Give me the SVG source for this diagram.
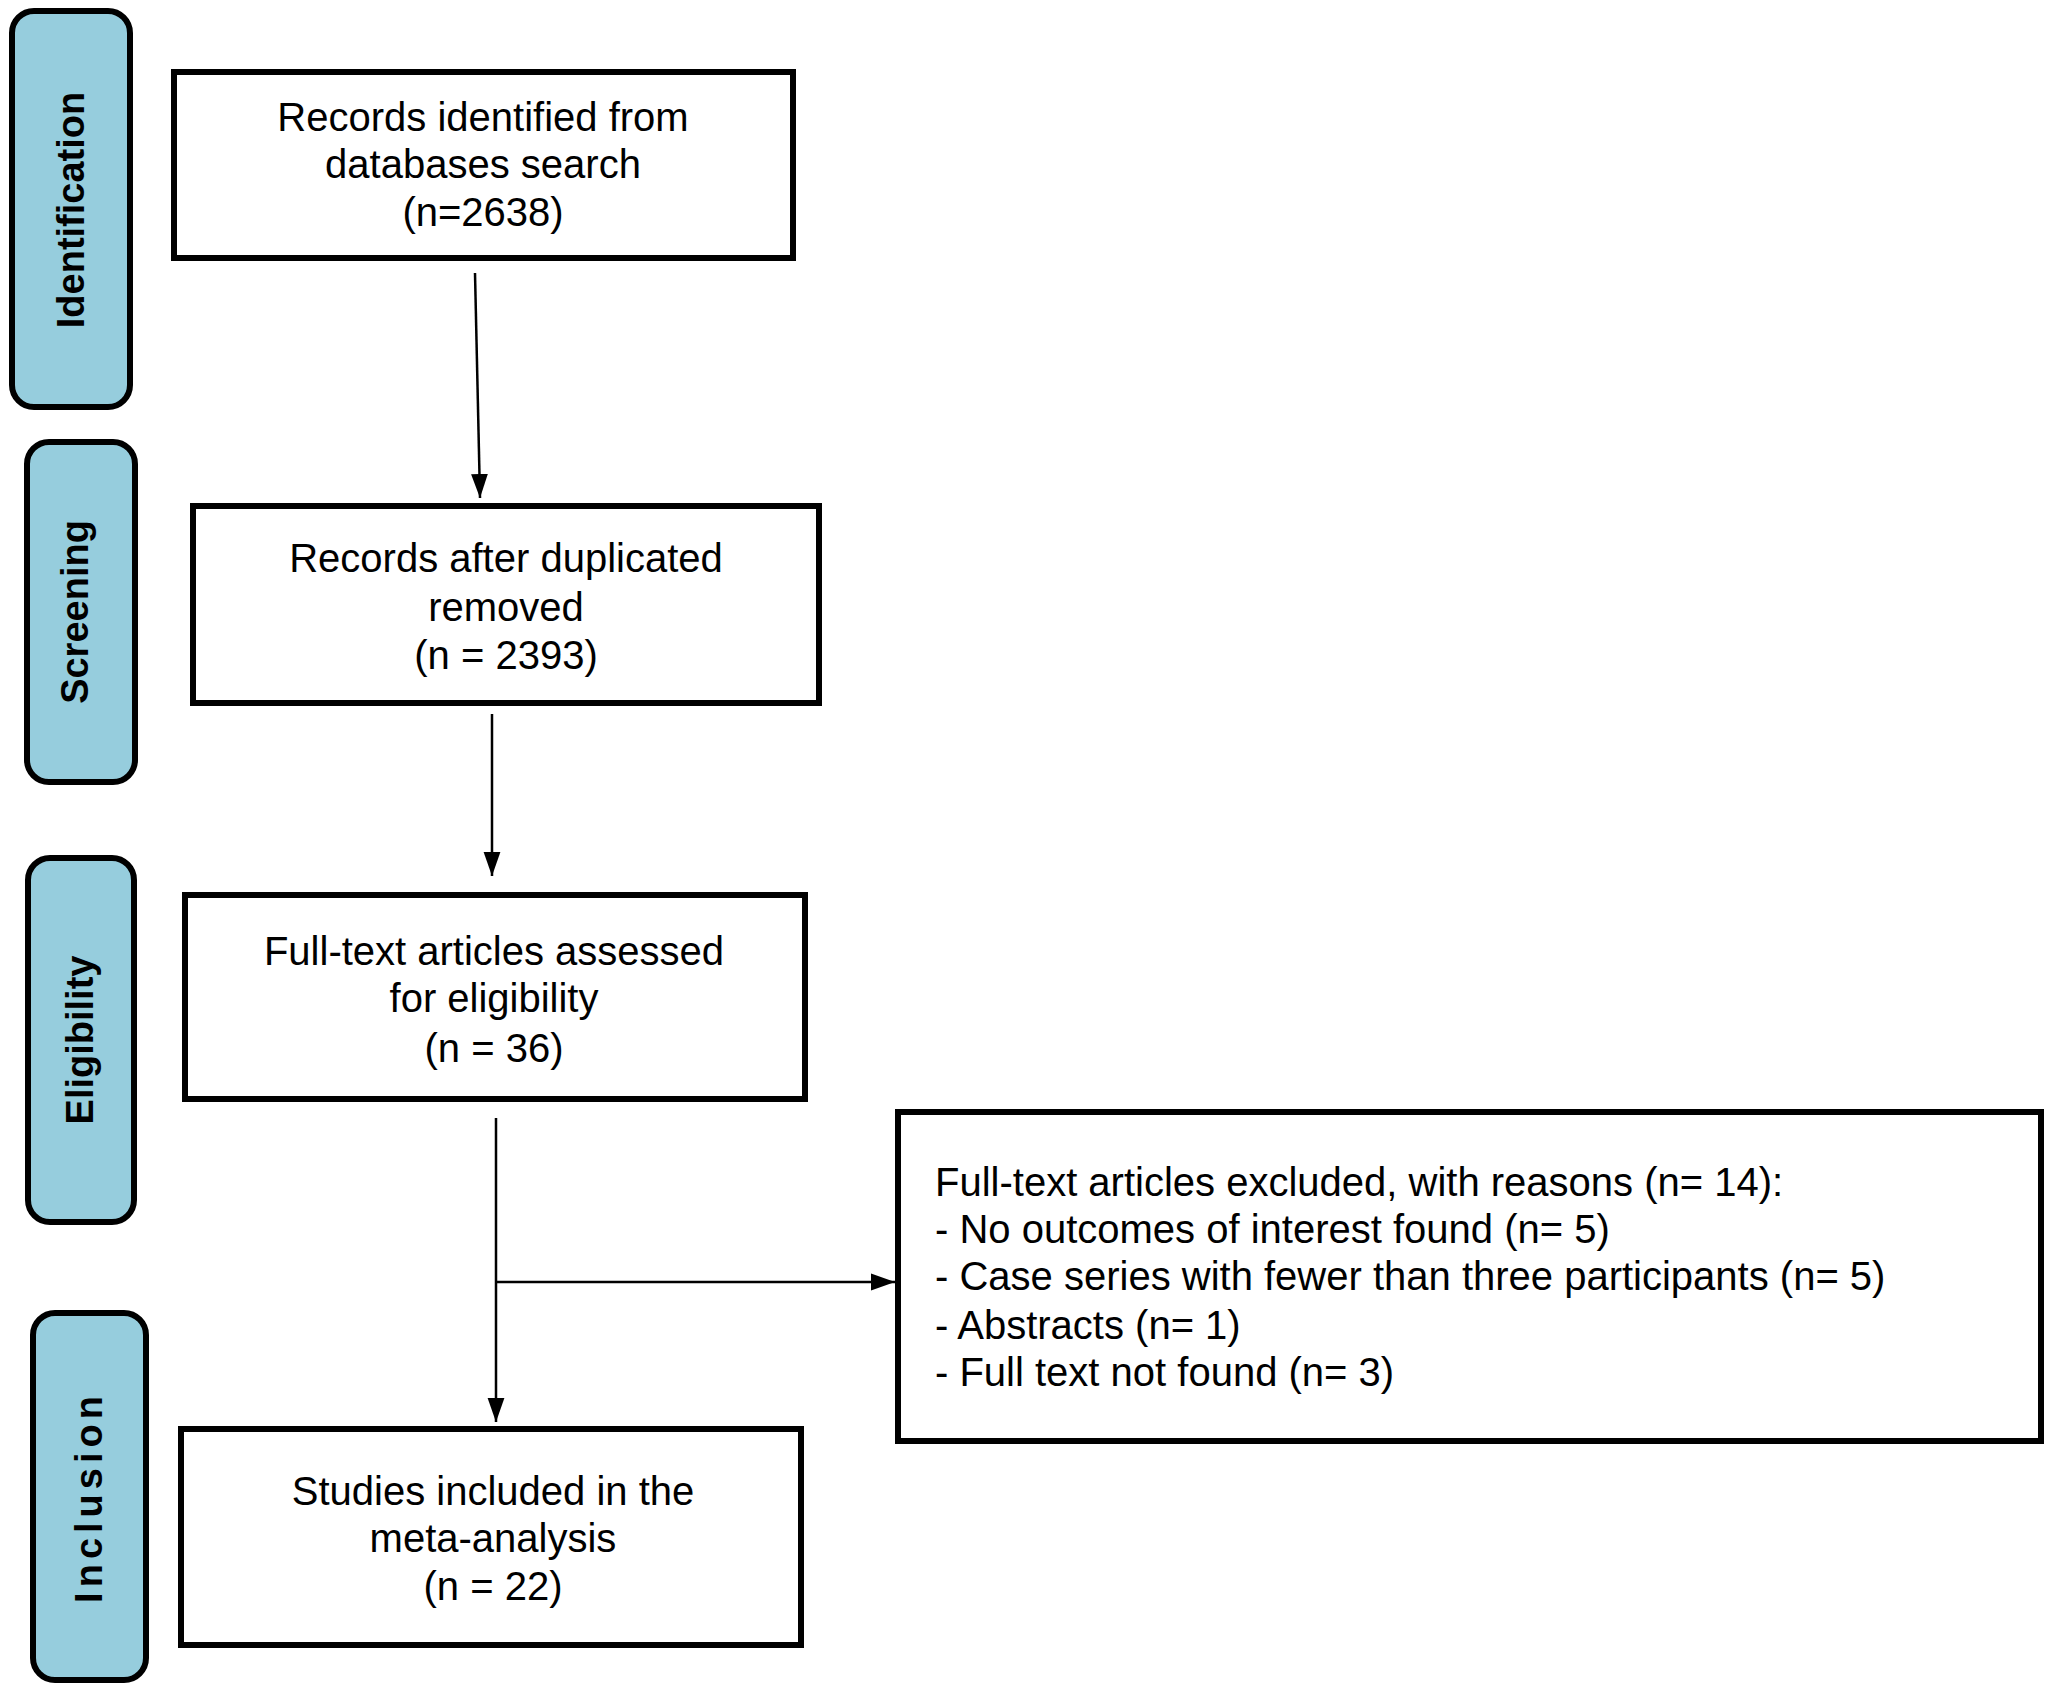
<svg xmlns="http://www.w3.org/2000/svg" width="2056" height="1693" viewBox="0 0 2056 1693">
<style>
.tab{fill:#96CDDD;stroke:#000;stroke-width:6}
.box{fill:#fff;stroke:#000;stroke-width:6}
.t{font-family:"Liberation Sans",Arial,sans-serif;font-size:40px;fill:#000;text-anchor:middle}
.l{font-family:"Liberation Sans",Arial,sans-serif;font-size:40px;fill:#000}
.tl{font-family:"Liberation Sans",Arial,sans-serif;font-size:38px;font-weight:bold;fill:#000;text-anchor:middle}
.c{stroke:#000;stroke-width:2.5;fill:none}
</style>
<defs><marker id="a" viewBox="0 0 10 10" refX="10" refY="5" markerWidth="9" markerHeight="9" orient="auto" markerUnits="userSpaceOnUse"><path d="M0,0L10,5L0,10z" fill="#000" transform="scale(1)"/></marker>
<marker id="b" viewBox="0 0 10 10" refX="10" refY="5" markerWidth="24" markerHeight="24" orient="auto" markerUnits="userSpaceOnUse"><path d="M0,1.5L10,5L0,8.5z" fill="#000"/></marker></defs>
<g id="tab-identification"><rect class="tab" x="12" y="11" width="118" height="396" rx="22"/><text class="tl" transform="translate(84,210) rotate(-90)">Identification</text></g>
<g id="tab-screening"><rect class="tab" x="27" y="442" width="108" height="340" rx="22"/><text class="tl" transform="translate(88,612) rotate(-90)">Screening</text></g>
<g id="tab-eligibility"><rect class="tab" x="28" y="858" width="106" height="364" rx="22"/><text class="tl" transform="translate(93,1040) rotate(-90)">Eligibility</text></g>
<g id="tab-inclusion"><rect class="tab" x="33" y="1313" width="113" height="367" rx="22"/><text class="tl" transform="translate(102,1497) rotate(-90)" letter-spacing="5">Inclusion</text></g>
<g id="box-identified"><rect class="box" x="174" y="72" width="619" height="186"/><text class="t" x="483" y="131">Records identified from</text><text class="t" x="483" y="178">databases search</text><text class="t" x="483" y="226">(n=2638)</text></g>
<g id="box-screened"><rect class="box" x="193" y="506" width="626" height="197"/><text class="t" x="506" y="572">Records after duplicated</text><text class="t" x="506" y="621">removed</text><text class="t" x="506" y="669">(n = 2393)</text></g>
<g id="box-eligible"><rect class="box" x="185" y="895" width="620" height="204"/><text class="t" x="494" y="965">Full-text articles assessed</text><text class="t" x="494" y="1012">for eligibility</text><text class="t" x="494" y="1062">(n = 36)</text></g>
<g id="box-included"><rect class="box" x="181" y="1429" width="620" height="216"/><text class="t" x="493" y="1505">Studies included in the</text><text class="t" x="493" y="1552">meta-analysis</text><text class="t" x="493" y="1600">(n = 22)</text></g>
<g id="box-excluded"><rect class="box" x="898" y="1112" width="1143" height="329"/><text class="l" x="935" y="1196">Full-text articles excluded, with reasons (n= 14):</text><text class="l" x="935" y="1243">- No outcomes of interest found (n= 5)</text><text class="l" x="935" y="1290">- Case series with fewer than three participants (n= 5)</text><text class="l" x="935" y="1339">- Abstracts (n= 1)</text><text class="l" x="935" y="1386">- Full text not found (n= 3)</text></g>
<g id="connectors">
<line class="c" x1="475" y1="273" x2="480" y2="498" marker-end="url(#b)"/>
<line class="c" x1="492" y1="714" x2="492" y2="876" marker-end="url(#b)"/>
<line class="c" x1="496" y1="1118" x2="496" y2="1422" marker-end="url(#b)"/>
<line class="c" x1="496" y1="1282" x2="895" y2="1282" marker-end="url(#b)"/>
</g>
</svg>
